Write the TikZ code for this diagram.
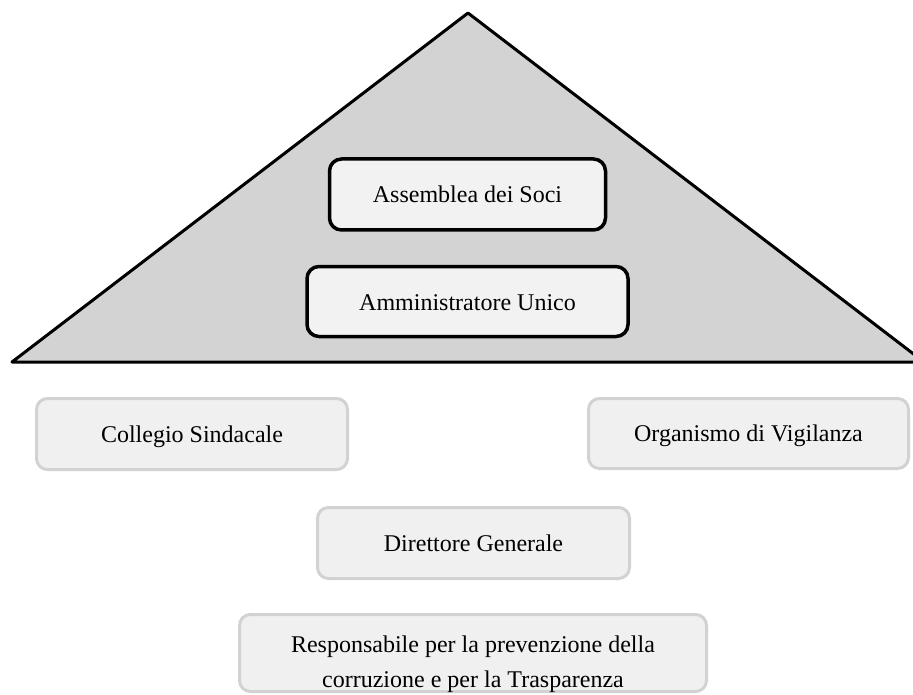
\documentclass[tikz,border=0pt]{standalone}
\usepackage{fontspec}
\setmainfont{Liberation Serif}
\definecolor{trifill}{HTML}{D3D3D3}
\definecolor{innerfill}{HTML}{F2F2F2}
\definecolor{outerfill}{HTML}{F0F0F0}
\definecolor{outerline}{HTML}{D2D2D2}
\begin{document}
\begin{tikzpicture}[x=1pt,y=-1pt,
  txt/.style={font=\fontsize{24}{35}\selectfont, text=black},
  innerbox/.style={txt, draw=black, line width=3.5pt, fill=innerfill, rounded corners=12pt, inner sep=0pt, text height=16pt, text depth=0pt},
  outerbox/.style={txt, draw=outerline, line width=3pt, fill=outerfill, rounded corners=11pt, inner sep=0pt, text height=16pt, text depth=0pt}]
\useasboundingbox (0,0) rectangle (913,695);
% roof
\coordinate (apex) at (468,13);
\coordinate (lc) at (12,362);
\coordinate (rc) at (924,362);
\draw[fill=trifill, line width=3pt, line join=round] (lc) -- (apex) -- (rc) -- cycle;
% inner boxes
\node[innerbox, minimum width=276pt, minimum height=71pt] (soci) at (467.5,194.5) {Assemblea dei Soci};
\node[innerbox, minimum width=321pt, minimum height=70pt, text height=18pt] (amm) at (467.5,301.5) {Amministratore Unico};
% outer boxes
\node[outerbox, minimum width=311pt, minimum height=71pt] (coll) at (192,434) {Collegio Sindacale};
\node[outerbox, minimum width=320pt, minimum height=70pt] (odv) at (748.5,433.5) {Organismo di Vigilanza};
\node[outerbox, minimum width=312pt, minimum height=71pt, text height=17pt] (dg) at (473.5,543) {Direttore Generale};
\node[outerbox, minimum width=467pt, minimum height=77pt] (rpct) at (473,653) {};
\node[txt, align=center, inner sep=0pt, anchor=base] (rpcttext) at (473,687) {Responsabile per la prevenzione della\\corruzione e per la Trasparenza};
\end{tikzpicture}
\end{document}
